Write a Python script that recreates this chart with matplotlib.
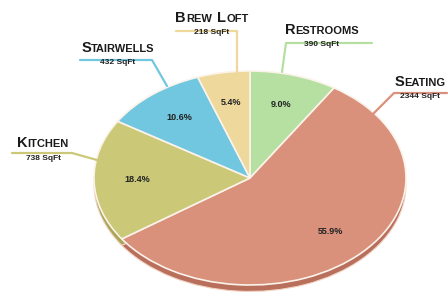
import matplotlib
matplotlib.use("Agg")
import matplotlib.pyplot as plt
from matplotlib.lines import Line2D
from matplotlib.offsetbox import TextArea, HPacker, DrawingArea, AnnotationBbox

# ── Data ──────────────────────────────────────────────────────────────────────
areas    = ["Restrooms", "Seating", "Kitchen", "Stairwells", "Brew Loft"]
sqft     = [390, 2344, 738, 432, 218]
percents = [9.0, 55.9, 18.4, 10.6, 5.4]
colors   = ["#b6e0a2", "#d9917c", "#cbc977", "#72c7e0", "#eed89c"]
shades   = ["#8fbf7c", "#b86f5c", "#a7a655", "#4fa2bb", "#c9b47a"]

plt.rcParams["font.family"] = ["Liberation Sans", "DejaVu Sans"]

W, H = 448, 300
fig = plt.figure(figsize=(W / 100, H / 100), dpi=100)

# ── Pie (squashed to look tilted) ─────────────────────────────────────────────
cx, cy, rx, ry = 250, 178, 156, 107
ax = fig.add_axes([(cx - rx) / W, (H - cy - ry) / H, 2 * rx / W, 2 * ry / H])

# darker copy underneath gives the pie some thickness
ax.pie(percents, colors=shades, startangle=90, counterclock=False,
       center=(0, -0.06), wedgeprops=dict(edgecolor="#f2d3c2", linewidth=0.8))
wedges, _, autotexts = ax.pie(
    percents, colors=colors, startangle=90, counterclock=False,
    autopct=lambda p: "", pctdistance=0.72,
    wedgeprops=dict(edgecolor="#fbf3ea", linewidth=1.2))
for t, p in zip(autotexts, percents):
    t.set_text(f"{p:.1f}%")
    t.set_fontsize(6.5)
    t.set_fontweight("bold")
    t.set_color("#222222")
ax.set_aspect("auto")
ax.set_xlim(-1.0, 1.0)
ax.set_ylim(-1.0, 1.0)
ax.axis("off")

# ── Overlay for labels and leader lines (pixel coords) ───────────────────────
ov = fig.add_axes([0, 0, 1, 1], zorder=3)
ov.set_xlim(0, W)
ov.set_ylim(H, 0)
ov.axis("off")


def smallcaps(text, big=10.5, small=8):
    parts = []
    for i, word in enumerate(text.split()):
        if i:
            parts.append(DrawingArea(4, 1))
        parts.append(TextArea(word[0], textprops=dict(size=big, weight="bold", color="#1a1a1a")))
        parts.append(TextArea(word[1:].upper(), textprops=dict(size=small, weight="bold", color="#1a1a1a")))
    return HPacker(children=parts, align="baseline", pad=0, sep=0)


# label anchor (x, y), leader line path
label_pos = {
    "Brew Loft":  ((212, 18),  [(176, 31), (237, 31), (237, 73)]),
    "Restrooms":  ((322, 30),  [(372, 43), (286, 43), (282, 72)]),
    "Seating":    ((420, 82),  [(447, 93), (394, 93), (373, 114)]),
    "Stairwells": ((118, 48),  [(80, 60), (152, 60), (167, 86)]),
    "Kitchen":    ((43, 143),  [(12, 153), (72, 153), (97, 160)]),
}

for name, val, col in zip(areas, sqft, colors):
    (lx, ly), path = label_pos[name]
    xs, ys = zip(*path)
    ov.add_line(Line2D(xs, ys, color=col, lw=1.6, solid_capstyle="round"))
    ab = AnnotationBbox(smallcaps(name), (lx, ly), frameon=False,
                        box_alignment=(0.5, 0.5), pad=0)
    ov.add_artist(ab)
    ov.text(lx, ly + 15, f"{val} SqFt", ha="center", va="center",
            fontsize=6, fontweight="bold", color="#222222")

fig.savefig("out.png", dpi=100)
